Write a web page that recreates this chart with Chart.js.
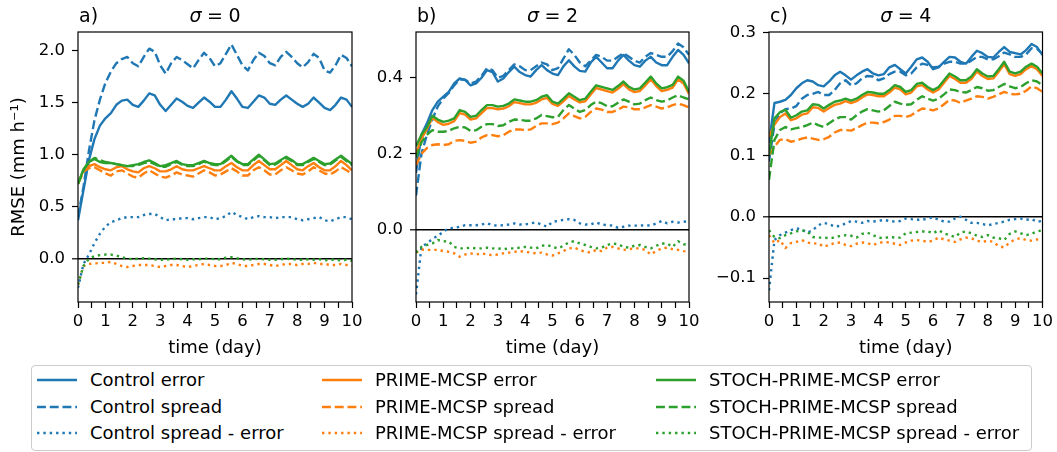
<!DOCTYPE html>
<html><head><meta charset="utf-8">
<script src="https://cdn.jsdelivr.net/npm/chart.js@4.4.1/dist/chart.umd.min.js"></script>
<style>
html,body{margin:0;padding:0;background:#fff;}
#wrap{position:relative;width:1057px;height:452px;overflow:hidden;font-family:"DejaVu Sans",sans-serif;background:#fff;}
#wrap canvas{position:absolute;top:0;}
#legend{position:absolute;left:31px;top:365px;width:1001px;height:86px;box-sizing:border-box;border:1px solid #cccccc;border-radius:4px;background:#fff;}
.lg-text{position:absolute;font-family:"DejaVu Sans",sans-serif;font-size:18px;line-height:22px;white-space:nowrap;color:#000;}
.lg-line{position:absolute;}
</style></head>
<body><div id="wrap">
<canvas id="ca" width="380" height="362" style="left:0px;width:380px;height:362px"></canvas>
<canvas id="cb" width="360" height="362" style="left:360px;width:360px;height:362px"></canvas>
<canvas id="cc" width="347" height="362" style="left:710px;width:347px;height:362px"></canvas>
<div id="legend"></div>
</div>
<script>
// ---- data (time in days, RMSE in mm h^-1) ----
const TIME = [0,0.2,0.4,0.6,0.8,1,1.2,1.4,1.6,1.8,2,2.2,2.4,2.6,2.8,3,3.2,3.4,3.6,3.8,4,4.2,4.4,4.6,4.8,5,5.2,5.4,5.6,5.8,6,6.2,6.4,6.6,6.8,7,7.2,7.4,7.6,7.8,8,8.2,8.4,8.6,8.8,9,9.2,9.4,9.6,9.8,10];
const X_TICKS = [0,0.5,1,1.5,2,2.5,3,3.5,4,4.5,5,5.5,6,6.5,7,7.5,8,8.5,9,9.5,10];
const SERIES_NAMES = ["Control error","Control spread","Control spread - error","PRIME-MCSP error","PRIME-MCSP spread","PRIME-MCSP spread - error","STOCH-PRIME-MCSP error","STOCH-PRIME-MCSP spread","STOCH-PRIME-MCSP spread - error"];
const PANEL_LETTERS = ["a)","b)","c)"];
const PANEL_SIGMAS = ["0","2","4"];

// panel a (sigma = 0)
const A_CTRL_ERR = [0.37,0.66,0.95,1.15,1.28, 1.35,1.40,1.48,1.52,1.53, 1.48,1.46,1.52,1.59,1.57, 1.48,1.42,1.48,1.54,1.51, 1.47,1.45,1.50,1.55,1.51, 1.46,1.46,1.53,1.61,1.54, 1.46,1.45,1.51,1.57,1.55, 1.49,1.48,1.53,1.57,1.53, 1.49,1.46,1.49,1.55,1.50, 1.45,1.43,1.48,1.55,1.53, 1.46];
const A_CTRL_SPR = [0.40,0.69,1.04,1.33,1.53, 1.69,1.80,1.88,1.92,1.94, 1.88,1.85,1.94,2.02,1.99, 1.86,1.78,1.88,1.94,1.91, 1.87,1.83,1.91,1.98,1.93, 1.85,1.88,1.97,2.06,1.96, 1.86,1.81,1.91,1.98,1.95, 1.88,1.86,1.94,1.99,1.94, 1.88,1.84,1.89,1.97,1.93, 1.81,1.79,1.86,1.96,1.93, 1.85];
const A_CTRL_SE  = [-0.28,-0.05,0.04,0.15,0.24, 0.31,0.35,0.37,0.39,0.40, 0.40,0.40,0.42,0.43,0.43, 0.40,0.37,0.38,0.38,0.39, 0.39,0.38,0.39,0.40,0.40, 0.38,0.39,0.41,0.45,0.42, 0.40,0.38,0.40,0.41,0.40, 0.40,0.39,0.40,0.40,0.40, 0.38,0.37,0.38,0.39,0.40, 0.37,0.36,0.38,0.40,0.40, 0.38];
const A_PRIME_ERR = [0.72,0.85,0.89,0.91,0.88, 0.86,0.85,0.88,0.89,0.86, 0.84,0.83,0.87,0.89,0.87, 0.84,0.84,0.86,0.89,0.86, 0.85,0.85,0.87,0.89,0.87, 0.85,0.85,0.89,0.92,0.88, 0.85,0.85,0.90,0.94,0.90, 0.86,0.86,0.90,0.94,0.90, 0.86,0.85,0.89,0.92,0.88, 0.85,0.85,0.89,0.94,0.90, 0.85];
const A_PRIME_SPR = [0.72,0.84,0.87,0.88,0.85, 0.82,0.80,0.84,0.85,0.82, 0.79,0.78,0.82,0.85,0.82, 0.79,0.78,0.80,0.83,0.81, 0.80,0.79,0.82,0.85,0.83, 0.80,0.81,0.84,0.87,0.84, 0.80,0.80,0.85,0.88,0.85, 0.81,0.81,0.85,0.88,0.85, 0.82,0.81,0.84,0.88,0.85, 0.82,0.81,0.84,0.88,0.85, 0.82];
const A_PRIME_SE  = [-0.25,-0.07,-0.05,-0.045,-0.04, -0.04,-0.03,-0.05,-0.07,-0.08, -0.07,-0.06,-0.06,-0.06,-0.07, -0.08,-0.07,-0.06,-0.06,-0.07, -0.08,-0.07,-0.06,-0.05,-0.06, -0.07,-0.07,-0.06,-0.04,-0.05, -0.07,-0.07,-0.06,-0.05,-0.05, -0.06,-0.07,-0.06,-0.05,-0.05, -0.06,-0.05,-0.05,-0.04,-0.05, -0.05,-0.06,-0.06,-0.05,-0.06, -0.07];
const A_STOCH_ERR = [0.72,0.86,0.93,0.96,0.93, 0.92,0.92,0.91,0.90,0.89, 0.90,0.91,0.93,0.945,0.92, 0.89,0.90,0.92,0.94,0.91, 0.90,0.90,0.92,0.94,0.92, 0.91,0.91,0.95,0.99,0.94, 0.91,0.91,0.955,1.00,0.955, 0.91,0.915,0.95,0.98,0.95, 0.91,0.91,0.94,0.97,0.94, 0.91,0.915,0.955,0.99,0.95, 0.91];
const A_STOCH_SPR = [0.72,0.85,0.93,0.97,0.95, 0.93,0.92,0.91,0.90,0.89, 0.89,0.90,0.92,0.93,0.91, 0.885,0.885,0.91,0.93,0.905, 0.89,0.89,0.91,0.935,0.91, 0.90,0.90,0.94,0.98,0.935, 0.90,0.90,0.945,0.99,0.945, 0.90,0.905,0.94,0.97,0.94, 0.90,0.90,0.93,0.96,0.93, 0.90,0.905,0.945,0.98,0.94, 0.90];
const A_STOCH_SE  = [-0.25,-0.07,0.0,0.025,0.035, 0.04,0.04,0.03,0.015,0.0, -0.005,0.0,0.005,0.0,-0.005, -0.01,-0.01,-0.005,0.0,-0.005, -0.01,-0.005,-0.005,0.0,0.0, -0.005,-0.005,0.01,0.015,0.005, -0.005,-0.01,-0.005,0.0,-0.005, -0.01,-0.01,-0.005,0.0,-0.005, -0.01,-0.01,-0.005,-0.01,-0.005, -0.015,-0.01,-0.01,-0.015,-0.01, -0.02];

// panel b (sigma = 2)
const B_CTRL_ERR = [0.15,0.25,0.28,0.315,0.337, 0.35,0.363,0.385,0.398,0.394, 0.38,0.385,0.40,0.42,0.415, 0.39,0.398,0.415,0.429,0.415, 0.407,0.403,0.42,0.433,0.42, 0.411,0.407,0.43,0.446,0.43, 0.418,0.416,0.44,0.455,0.44, 0.425,0.425,0.445,0.46,0.445, 0.433,0.429,0.445,0.455,0.44, 0.433,0.433,0.455,0.473,0.46, 0.438];
const B_CTRL_SPR = [0.09,0.20,0.25,0.29,0.325, 0.345,0.36,0.38,0.395,0.395, 0.385,0.39,0.405,0.425,0.42, 0.40,0.405,0.42,0.435,0.43, 0.42,0.42,0.43,0.44,0.435, 0.42,0.425,0.45,0.475,0.46, 0.44,0.43,0.445,0.46,0.455, 0.445,0.445,0.455,0.465,0.455, 0.445,0.44,0.455,0.465,0.46, 0.455,0.455,0.47,0.49,0.48, 0.46];
const B_CTRL_SE  = [-0.17,-0.045,-0.036,-0.024,-0.016, -0.005,0.004,0.005,0.008,0.012, 0.012,0.012,0.014,0.017,0.012, 0.011,0.012,0.014,0.017,0.014, 0.014,0.017,0.019,0.014,0.008, 0.021,0.023,0.026,0.028,0.026, 0.017,0.014,0.014,0.019,0.014, 0.012,0.011,0.005,0.008,0.011, 0.011,0.011,0.012,0.011,0.017, 0.023,0.017,0.021,0.019,0.021, 0.023];
const B_PRIME_ERR = [0.20,0.24,0.265,0.295,0.283, 0.276,0.279,0.286,0.307,0.303, 0.29,0.293,0.307,0.32,0.32, 0.317,0.319,0.325,0.336,0.333, 0.33,0.33,0.334,0.343,0.347, 0.331,0.326,0.338,0.352,0.343, 0.335,0.338,0.356,0.373,0.369, 0.365,0.361,0.371,0.383,0.369, 0.362,0.365,0.38,0.396,0.378, 0.365,0.368,0.374,0.396,0.385, 0.357];
const B_PRIME_SPR = [0.17,0.20,0.215,0.223,0.225, 0.223,0.225,0.234,0.236,0.234, 0.229,0.232,0.243,0.249,0.249, 0.246,0.249,0.258,0.264,0.264, 0.262,0.264,0.273,0.28,0.28, 0.278,0.282,0.293,0.306,0.299, 0.293,0.297,0.31,0.319,0.316, 0.31,0.31,0.316,0.324,0.322, 0.317,0.317,0.322,0.328,0.324, 0.319,0.322,0.328,0.332,0.328, 0.322];
const B_PRIME_SE  = [-0.06,-0.052,-0.053,-0.053,-0.053, -0.056,-0.058,-0.062,-0.071,-0.065, -0.062,-0.065,-0.062,-0.065,-0.067, -0.065,-0.062,-0.06,-0.058,-0.056, -0.058,-0.06,-0.062,-0.06,-0.065, -0.068,-0.062,-0.056,-0.049,-0.047, -0.053,-0.058,-0.06,-0.053,-0.056, -0.047,-0.045,-0.049,-0.053,-0.051, -0.049,-0.049,-0.053,-0.065,-0.056, -0.049,-0.047,-0.051,-0.053,-0.056, -0.058];
const B_STOCH_ERR = [0.22,0.25,0.27,0.30,0.29, 0.284,0.287,0.293,0.315,0.31, 0.297,0.30,0.315,0.328,0.328, 0.324,0.326,0.332,0.343,0.34, 0.337,0.337,0.341,0.35,0.354, 0.337,0.332,0.345,0.359,0.35, 0.341,0.345,0.363,0.38,0.376, 0.372,0.368,0.378,0.39,0.376, 0.369,0.372,0.387,0.403,0.385, 0.372,0.375,0.381,0.403,0.392, 0.363];
const B_STOCH_SPR = [0.19,0.23,0.25,0.262,0.258, 0.258,0.26,0.267,0.271,0.269, 0.26,0.262,0.271,0.278,0.278, 0.273,0.275,0.284,0.29,0.289, 0.287,0.287,0.293,0.302,0.299, 0.296,0.297,0.315,0.328,0.319, 0.31,0.315,0.328,0.337,0.333, 0.325,0.325,0.334,0.343,0.337, 0.33,0.332,0.341,0.348,0.341, 0.337,0.34,0.348,0.354,0.348, 0.343];
const B_STOCH_SE  = [-0.06,-0.045,-0.04,-0.036,-0.027, -0.03,-0.031,-0.045,-0.049,-0.049, -0.047,-0.049,-0.049,-0.047,-0.049, -0.049,-0.051,-0.049,-0.049,-0.047, -0.045,-0.047,-0.049,-0.042,-0.04, -0.045,-0.049,-0.042,-0.033,-0.03, -0.036,-0.04,-0.045,-0.049,-0.047, -0.04,-0.036,-0.038,-0.045,-0.047, -0.042,-0.04,-0.045,-0.049,-0.042, -0.036,-0.036,-0.045,-0.03,-0.038, -0.04];

// panel c (sigma = 4)
const C_CTRL_ERR = [0.12,0.185,0.187,0.19,0.198, 0.209,0.217,0.222,0.22,0.214, 0.212,0.22,0.23,0.236,0.23, 0.223,0.23,0.236,0.24,0.233, 0.23,0.232,0.243,0.247,0.24, 0.233,0.244,0.256,0.259,0.252, 0.24,0.243,0.252,0.26,0.259, 0.252,0.249,0.26,0.27,0.266, 0.26,0.259,0.268,0.276,0.268, 0.266,0.264,0.271,0.281,0.276, 0.263];
const C_CTRL_SPR = [0.09,0.15,0.168,0.175,0.176, 0.18,0.192,0.198,0.20,0.203, 0.198,0.198,0.206,0.217,0.222, 0.214,0.217,0.225,0.229,0.228, 0.222,0.225,0.232,0.236,0.236, 0.23,0.233,0.243,0.249,0.247, 0.243,0.244,0.249,0.252,0.252, 0.249,0.249,0.254,0.26,0.26, 0.256,0.256,0.261,0.267,0.264, 0.26,0.26,0.264,0.274,0.273, 0.265];
const C_CTRL_SE  = [-0.12,-0.038,-0.03,-0.026,-0.022, -0.019,-0.021,-0.026,-0.022,-0.014, -0.01,-0.012,-0.016,-0.015,-0.011, -0.007,-0.008,-0.01,-0.007,-0.008, -0.007,-0.005,-0.007,-0.008,-0.007, -0.003,-0.004,-0.005,-0.005,-0.003, -0.001,-0.005,-0.008,-0.008,-0.003, 0.0,-0.005,-0.01,-0.01,-0.012, -0.014,-0.012,-0.01,-0.008,-0.005, -0.004,-0.003,-0.005,-0.004,-0.008, -0.007];
const C_PRIME_ERR = [0.13,0.15,0.162,0.168,0.157, 0.16,0.166,0.168,0.178,0.177, 0.171,0.177,0.182,0.184,0.188, 0.185,0.188,0.194,0.199,0.198, 0.196,0.196,0.202,0.21,0.207, 0.199,0.202,0.212,0.214,0.207, 0.202,0.207,0.218,0.229,0.224, 0.218,0.218,0.224,0.236,0.229, 0.224,0.225,0.236,0.248,0.232, 0.229,0.232,0.24,0.245,0.24, 0.229];
const C_PRIME_SPR = [0.10,0.114,0.125,0.126,0.122, 0.124,0.127,0.129,0.127,0.125, 0.126,0.13,0.137,0.141,0.141, 0.14,0.144,0.149,0.153,0.153, 0.152,0.154,0.158,0.164,0.164, 0.162,0.165,0.171,0.176,0.175, 0.173,0.176,0.183,0.19,0.189, 0.185,0.189,0.192,0.196,0.195, 0.192,0.195,0.199,0.203,0.2, 0.199,0.2,0.205,0.212,0.209, 0.203];
const C_PRIME_SE  = [-0.03,-0.043,-0.038,-0.051,-0.043, -0.041,-0.038,-0.042,-0.044,-0.043, -0.049,-0.046,-0.043,-0.042,-0.046, -0.048,-0.044,-0.042,-0.043,-0.046, -0.043,-0.041,-0.042,-0.044,-0.046, -0.042,-0.039,-0.038,-0.039,-0.041, -0.039,-0.034,-0.037,-0.039,-0.041, -0.037,-0.034,-0.035,-0.039,-0.041, -0.039,-0.041,-0.048,-0.05,-0.042, -0.037,-0.035,-0.038,-0.039,-0.037, -0.038];
const C_STOCH_ERR = [0.10,0.16,0.17,0.174,0.161, 0.165,0.171,0.173,0.183,0.182, 0.176,0.182,0.187,0.189,0.192, 0.189,0.192,0.198,0.203,0.202, 0.20,0.20,0.206,0.214,0.211, 0.203,0.206,0.216,0.218,0.211, 0.206,0.211,0.222,0.233,0.228, 0.222,0.222,0.228,0.24,0.233, 0.228,0.229,0.24,0.252,0.236, 0.233,0.236,0.244,0.249,0.244, 0.233];
const C_STOCH_SPR = [0.06,0.125,0.141,0.146,0.142, 0.144,0.146,0.149,0.153,0.149, 0.146,0.152,0.158,0.162,0.162, 0.158,0.165,0.171,0.175,0.173, 0.171,0.173,0.18,0.187,0.184, 0.182,0.183,0.19,0.196,0.192, 0.189,0.192,0.199,0.207,0.206, 0.203,0.202,0.206,0.211,0.209, 0.205,0.206,0.211,0.216,0.212, 0.209,0.211,0.217,0.222,0.22, 0.214];
const C_STOCH_SE  = [-0.022,-0.033,-0.035,-0.03,-0.027, -0.024,-0.022,-0.024,-0.033,-0.034, -0.034,-0.035,-0.034,-0.031,-0.03, -0.031,-0.034,-0.028,-0.026,-0.03, -0.034,-0.035,-0.033,-0.034,-0.034, -0.027,-0.026,-0.025,-0.024,-0.024, -0.027,-0.022,-0.027,-0.03,-0.033, -0.026,-0.024,-0.027,-0.031,-0.033, -0.03,-0.034,-0.035,-0.038,-0.028, -0.024,-0.027,-0.03,-0.028,-0.024, -0.022];

// y-axis ticks per panel
const A_YTICKS = [0, 0.5, 1, 1.5, 2];
const A_YLABELS = ["0.0", "0.5", "1.0", "1.5", "2.0"];
const B_YTICKS = [0, 0.2, 0.4];
const B_YLABELS = ["0.0", "0.2", "0.4"];
const C_YTICKS = [-0.1, 0, 0.1, 0.2, 0.3];
const C_YLABELS = ["\u22120.1", "0.0", "0.1", "0.2", "0.3"];

// ---- styling ----
const COLORS = ["#1f77b4", "#ff7f0e", "#2ca02c"];
const DASHES = [[], [8.9, 3.85], [2.4, 3.96]];
const LINE_W = 2.4;
const FONT = '"DejaVu Sans"';
const H = 362, PLOT_BOTTOM = 302, PLOT_TOP = 32;

const framePlugin = {
  id: 'frame',
  afterDatasetsDraw(chart) {
    const {ctx, chartArea: a} = chart;
    ctx.save();
    ctx.strokeStyle = '#000'; ctx.lineWidth = 1.2;
    ctx.strokeRect(a.left, a.top, a.right - a.left, a.bottom - a.top);
    ctx.restore();
  }
};
const titlePlugin = {
  id: 'panelTitle',
  afterDraw(chart, args, opts) {
    const {ctx, chartArea: a} = chart;
    ctx.save();
    ctx.fillStyle = '#000';
    ctx.textBaseline = 'alphabetic';
    ctx.textAlign = 'left';
    const base = 21.5;
    ctx.font = '19px ' + FONT;
    ctx.fillText(opts.letter, a.left + 1, base);
    const fI = 'italic 19px ' + FONT, fR = '19px ' + FONT;
    ctx.font = fI; const w1 = ctx.measureText('\u03c3').width;
    ctx.font = fR; const w2 = ctx.measureText('=').width; const w3 = ctx.measureText(opts.sigma).width;
    const gap = 5.5;
    let x = (a.left + a.right) / 2 - (w1 + w2 + w3 + 2 * gap) / 2;
    ctx.font = fI; ctx.fillText('\u03c3', x, base); x += w1 + gap;
    ctx.font = fR; ctx.fillText('=', x, base); x += w2 + gap;
    ctx.fillText(opts.sigma, x, base);
    ctx.restore();
  }
};

function makePanel(id, seriesList, yMin, yMax, yTicks, yLabels, axisW, padRight, idx, showYTitle) {
  const datasets = seriesList.map((arr, k) => ({
    label: SERIES_NAMES[k],
    data: TIME.map((t, i) => ({x: t, y: arr[i]})),
    borderColor: COLORS[Math.floor(k / 3)],
    borderWidth: LINE_W,
    borderDash: DASHES[k % 3],
    borderJoinStyle: 'round',
    pointRadius: 0,
    tension: 0,
    fill: false,
    order: 40 - k
  }));
  return new Chart(document.getElementById(id), {
    type: 'line',
    data: {datasets},
    options: {
      responsive: false,
      animation: false,
      events: [],
      layout: {padding: {top: PLOT_TOP, right: padRight, left: 0, bottom: 0}},
      plugins: {legend: {display: false}, tooltip: {enabled: false},
                panelTitle: {letter: PANEL_LETTERS[idx], sigma: PANEL_SIGMAS[idx]}},
      scales: {
        x: {
          type: 'linear', min: 0, max: 10,
          afterBuildTicks: s => { s.ticks = X_TICKS.map(v => ({value: v})); },
          afterFit: s => { s.height = H - PLOT_BOTTOM; },
          ticks: {callback: v => Number.isInteger(v) ? String(v) : '', font: {family: 'DejaVu Sans', size: 16.5},
                  color: '#000', padding: 4, maxRotation: 0, minRotation: 0, autoSkip: false},
          grid: {drawOnChartArea: false, drawTicks: true, tickLength: 6, tickColor: '#000', tickWidth: 1.2},
          border: {display: false},
          title: {display: true, text: 'time (day)', color: '#000', font: {family: 'DejaVu Sans', size: 18}, padding: {top: 0, bottom: 3}}
        },
        y: {
          type: 'linear', min: yMin, max: yMax,
          afterBuildTicks: s => { s.ticks = yTicks.map(v => ({value: v})); },
          afterFit: s => { s.width = axisW; },
          ticks: {callback: (v, i) => yLabels[i], font: {family: 'DejaVu Sans', size: 16.5}, color: '#000', padding: 7, autoSkip: false},
          grid: {drawOnChartArea: true, drawTicks: true, tickLength: 6, tickColor: '#000', tickWidth: 1.2,
                 color: c => (c.tick && Math.abs(c.tick.value) < 1e-9) ? '#000' : 'rgba(0,0,0,0)',
                 lineWidth: c => (c.tick && Math.abs(c.tick.value) < 1e-9) ? 1.6 : 1},
          border: {display: false},
          title: {display: showYTitle, text: 'RMSE (mm h\u207b\u00b9)', color: '#000', font: {family: 'DejaVu Sans', size: 18}, padding: {top: 9, bottom: 0}}
        }
      }
    },
    plugins: [framePlugin, titlePlugin]
  });
}

makePanel('ca', [A_CTRL_ERR, A_CTRL_SPR, A_CTRL_SE, A_PRIME_ERR, A_PRIME_SPR, A_PRIME_SE, A_STOCH_ERR, A_STOCH_SPR, A_STOCH_SE],
  -0.416, 2.18, A_YTICKS, A_YLABELS, 78, 380 - 352, 0, true);
makePanel('cb', [B_CTRL_ERR, B_CTRL_SPR, B_CTRL_SE, B_PRIME_ERR, B_PRIME_SPR, B_PRIME_SE, B_STOCH_ERR, B_STOCH_SPR, B_STOCH_SE],
  -0.190, 0.5203, B_YTICKS, B_YLABELS, 416 - 360, 360 - (689 - 360), 1, false);
makePanel('cc', [C_CTRL_ERR, C_CTRL_SPR, C_CTRL_SE, C_PRIME_ERR, C_PRIME_SPR, C_PRIME_SE, C_STOCH_ERR, C_STOCH_SPR, C_STOCH_SE],
  -0.1388, 0.3005, C_YTICKS, C_YLABELS, 769 - 710, 347 - (1043 - 710), 2, false);

// ---- legend (HTML) ----
const LEG_SAMPLE_X = [37, 322, 656];
const LEG_TEXT_X = [90, 375, 709];
const LEG_ROW_Y = [380, 406.7, 433];
const wrap = document.getElementById('wrap');
SERIES_NAMES.forEach((name, k) => {
  const col = Math.floor(k / 3), row = k % 3;
  const svgNS = 'http://www.w3.org/2000/svg';
  const svg = document.createElementNS(svgNS, 'svg');
  svg.setAttribute('width', '40'); svg.setAttribute('height', '8');
  svg.setAttribute('class', 'lg-line');
  svg.style.left = LEG_SAMPLE_X[col] + 'px';
  svg.style.top = (LEG_ROW_Y[row] - 4) + 'px';
  const ln = document.createElementNS(svgNS, 'line');
  ln.setAttribute('x1', '0'); ln.setAttribute('x2', '40');
  ln.setAttribute('y1', '4'); ln.setAttribute('y2', '4');
  ln.setAttribute('stroke', COLORS[col]);
  ln.setAttribute('stroke-width', String(LINE_W));
  if (DASHES[row].length) ln.setAttribute('stroke-dasharray', DASHES[row].join(','));
  svg.appendChild(ln);
  wrap.appendChild(svg);
  const t = document.createElement('div');
  t.className = 'lg-text';
  t.textContent = name;
  t.style.left = LEG_TEXT_X[col] + 'px';
  t.style.top = (LEG_ROW_Y[row] - 11) + 'px';
  wrap.appendChild(t);
});
</script>
</body></html>
